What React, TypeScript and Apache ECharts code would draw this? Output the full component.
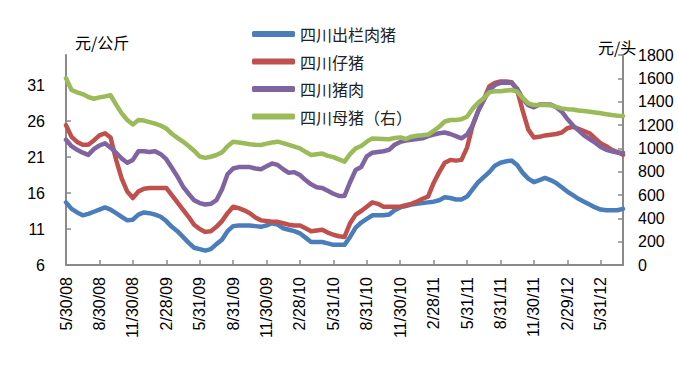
import React, { useEffect, useRef } from "react";
import * as echarts from "echarts";

const tickLabels = [
  "5/30/08", "8/30/08", "11/30/08", "2/28/09", "5/31/09", "8/31/09", "11/30/09", "2/28/10",
  "5/31/10", "8/31/10", "11/30/10", "2/28/11", "5/31/11", "8/31/11", "11/30/11", "2/29/12", "5/31/12",
];
const pointsPerQuarter = 6;

const seriesNames = ["四川出栏肉猪", "四川仔猪", "四川猪肉", "四川母猪（右）"];
const seriesColors = ["#4A7EBB", "#C0504D", "#8064A2", "#9BBB59"];

const hogPrice = [
  14.7, 13.8, 13.3, 12.9, 13.1, 13.4, 13.7, 14.0, 13.7, 13.2,
  12.7, 12.2, 12.3, 13.0, 13.3, 13.2, 13.0, 12.7, 12.1, 11.3,
  10.7, 9.9, 9.1, 8.4, 8.2, 8.0, 8.2, 8.9, 9.5, 10.7,
  11.4, 11.5, 11.5, 11.5, 11.4, 11.3, 11.5, 11.8, 11.6, 11.1,
  10.9, 10.7, 10.4, 9.8, 9.2, 9.2, 9.2, 9.0, 8.8, 8.8,
  8.8, 9.9, 11.2, 11.9, 12.4, 12.9, 12.9, 12.9, 13.0, 13.6,
  14.0, 14.2, 14.4, 14.5, 14.6, 14.7, 14.8, 15.0, 15.4, 15.3,
  15.1, 15.1, 15.5, 16.5, 17.5, 18.2, 18.9, 19.8, 20.2, 20.4,
  20.5, 19.9, 18.8, 18.0, 17.5, 17.8, 18.1, 17.8, 17.4, 16.8,
  16.2, 15.7, 15.2, 14.8, 14.4, 14.0, 13.7, 13.6, 13.6, 13.6,
  13.8,
];

const pigletPrice = [
  25.4, 23.8, 23.1, 22.7, 22.7, 23.3, 24.0, 24.3, 23.7, 20.6,
  18.0, 16.2, 15.3, 16.2, 16.6, 16.7, 16.7, 16.7, 16.7, 15.7,
  14.7, 13.7, 12.7, 11.6, 11.0, 10.6, 10.7, 11.3, 12.1, 13.2,
  14.1, 13.9, 13.6, 13.2, 12.6, 12.2, 12.1, 12.0, 12.0, 11.8,
  11.6, 11.5, 11.5, 11.1, 10.7, 10.8, 10.9, 10.5, 10.2, 10.0,
  9.9, 11.8, 13.0, 13.5, 14.1, 14.7, 14.5, 14.1, 14.1, 14.1,
  14.1, 14.3, 14.5, 14.8, 15.2, 15.5, 17.4, 18.9, 20.2, 20.6,
  20.5, 20.6, 22.3, 25.4, 27.4, 29.0, 30.8, 31.3, 31.5, 31.5,
  31.4, 30.3, 27.4, 24.8, 23.7, 23.8, 24.0, 24.1, 24.2, 24.4,
  25.0, 25.2, 24.9, 24.6, 24.3, 23.6, 22.9, 22.5, 22.0, 21.7,
  21.3,
];

const porkPrice = [
  23.4, 22.5, 22.0, 21.6, 21.3, 22.1, 22.6, 22.9, 22.3, 21.6,
  20.8, 20.2, 20.6, 21.8, 21.8, 21.7, 21.8, 21.4, 20.7, 19.5,
  18.3, 16.9, 15.9, 15.0, 14.6, 14.4, 14.5, 15.0, 16.5, 18.6,
  19.4, 19.6, 19.6, 19.6, 19.4, 19.3, 19.7, 20.1, 19.9, 19.3,
  18.8, 18.9, 18.5, 17.8, 17.2, 16.8, 16.7, 16.3, 15.9, 15.6,
  15.6, 17.5, 19.2, 19.6, 21.1, 21.6, 21.7, 21.8, 22.0, 22.7,
  23.1, 23.3, 23.4, 23.5, 23.6, 23.9, 24.1, 24.3, 24.4, 24.2,
  23.9, 23.6, 24.1, 25.4, 27.4, 28.9, 30.3, 31.0, 31.3, 31.3,
  31.3, 30.5, 29.1, 28.2, 27.9, 28.3, 28.3, 28.3, 27.9, 27.3,
  26.3, 25.4, 24.7, 24.0, 23.5, 23.0, 22.4, 22.0, 21.8, 21.6,
  21.6,
];

const sowPrice = [
  1600, 1500, 1480, 1465, 1440, 1425, 1437, 1445, 1455, 1375,
  1300, 1243, 1205, 1243, 1238, 1225, 1212, 1195, 1170, 1125,
  1090, 1058, 1020, 980, 930, 918, 928, 943, 965, 1018,
  1057, 1050, 1043, 1035, 1030, 1029, 1040, 1050, 1057, 1045,
  1030, 1015, 1000, 970, 943, 950, 955, 935, 925, 905,
  886, 950, 1000, 1020, 1057, 1085, 1083, 1080, 1078, 1088,
  1094, 1080, 1100, 1108, 1112, 1118, 1150, 1185, 1230, 1243,
  1243, 1250, 1271, 1340, 1390, 1430, 1480, 1490, 1490, 1495,
  1500, 1486, 1432, 1385, 1371, 1371, 1371, 1370, 1355, 1342,
  1336, 1332, 1325, 1320, 1314, 1307, 1300, 1292, 1285, 1280,
  1277,
];

const leftTicks = [6, 11, 16, 21, 26, 31];

const categories = hogPrice.map((_, i) =>
  i % pointsPerQuarter === 0 ? tickLabels[i / pointsPerQuarter] : `p${i}`
);

const FONT = '"Liberation Sans", Arial, "Noto Sans CJK SC", sans-serif';
const CJK = '"Noto Sans CJK SC", "Liberation Sans", sans-serif';
const AXIS_GRAY = "#8A8A8A";

export default function App() {
  const ref = useRef<HTMLDivElement>(null);

  useEffect(() => {
    if (!ref.current) return;
    const chart = echarts.init(ref.current, undefined, { renderer: "svg" });
    const dataSets = [hogPrice, pigletPrice, porkPrice, sowPrice];
    chart.setOption({
      animation: false,
      backgroundColor: "#FFFFFF",
      textStyle: { fontFamily: FONT },
      grid: { left: 66, right: 55, top: 55, bottom: 100, containLabel: false },
      legend: {
        orient: "vertical",
        left: 247,
        top: 20,
        icon: "roundRect",
        itemWidth: 43,
        itemHeight: 6,
        itemGap: 9.5,
        data: seriesNames,
        textStyle: { fontFamily: CJK, fontSize: 16, lineHeight: 18, color: "#222222" },
      },
      xAxis: {
        type: "category",
        data: categories,
        boundaryGap: false,
        axisLine: { lineStyle: { color: AXIS_GRAY, width: 2 } },
        axisTick: { show: true, inside: true, length: 5, interval: pointsPerQuarter - 1, lineStyle: { color: AXIS_GRAY, width: 1.5 } },
        axisLabel: {
          interval: pointsPerQuarter - 1,
          rotate: 90,
          fontSize: 16,
          margin: 12,
          color: "#000000",
          fontFamily: FONT,
        },
        splitLine: { show: false },
      },
      yAxis: [
        {
          type: "value",
          position: "left",
          min: 6,
          max: 35.17,
          interval: 5,
          axisLine: { show: true, lineStyle: { color: AXIS_GRAY, width: 2 } },
          axisTick: { show: true, inside: true, length: 5, customValues: leftTicks, lineStyle: { color: AXIS_GRAY, width: 1.5 } },
          axisLabel: { customValues: leftTicks, fontSize: 16, margin: 21, color: "#000000", fontFamily: FONT },
          splitLine: { show: false },
        },
        {
          type: "value",
          position: "right",
          min: 0,
          max: 1800,
          interval: 200,
          axisLine: { show: true, lineStyle: { color: AXIS_GRAY, width: 2 } },
          axisTick: { show: true, inside: true, length: 5, lineStyle: { color: AXIS_GRAY, width: 1.5 } },
          axisLabel: {
            fontSize: 16,
            margin: 15,
            color: "#000000",
            fontFamily: FONT,
            formatter: (v: number) => String(v),
          },
          splitLine: { show: false },
        },
      ],
      graphic: [
        {
          type: "text",
          x: 75,
          y: 42,
          style: { text: "元/公斤", fontSize: 16, fontFamily: CJK, fill: "#000000", verticalAlign: "middle" },
        },
        {
          type: "text",
          x: 598,
          y: 47,
          style: { text: "元/头", fontSize: 16, fontFamily: CJK, fill: "#000000", verticalAlign: "middle" },
        },
      ],
      series: seriesNames.map((name, k) => ({
        name,
        type: "line",
        yAxisIndex: k === 3 ? 1 : 0,
        data: dataSets[k],
        showSymbol: false,
        symbol: "none",
        smooth: false,
        color: seriesColors[k],
        lineStyle: { width: 4.5, color: seriesColors[k], cap: "round", join: "round" },
        z: 2 + k,
      })),
    });
    return () => chart.dispose();
  }, []);

  return (
    <div
      ref={ref}
      style={{ position: "fixed", left: 0, top: 0, width: 678, height: 365, background: "#fff" }}
    />
  );
}
